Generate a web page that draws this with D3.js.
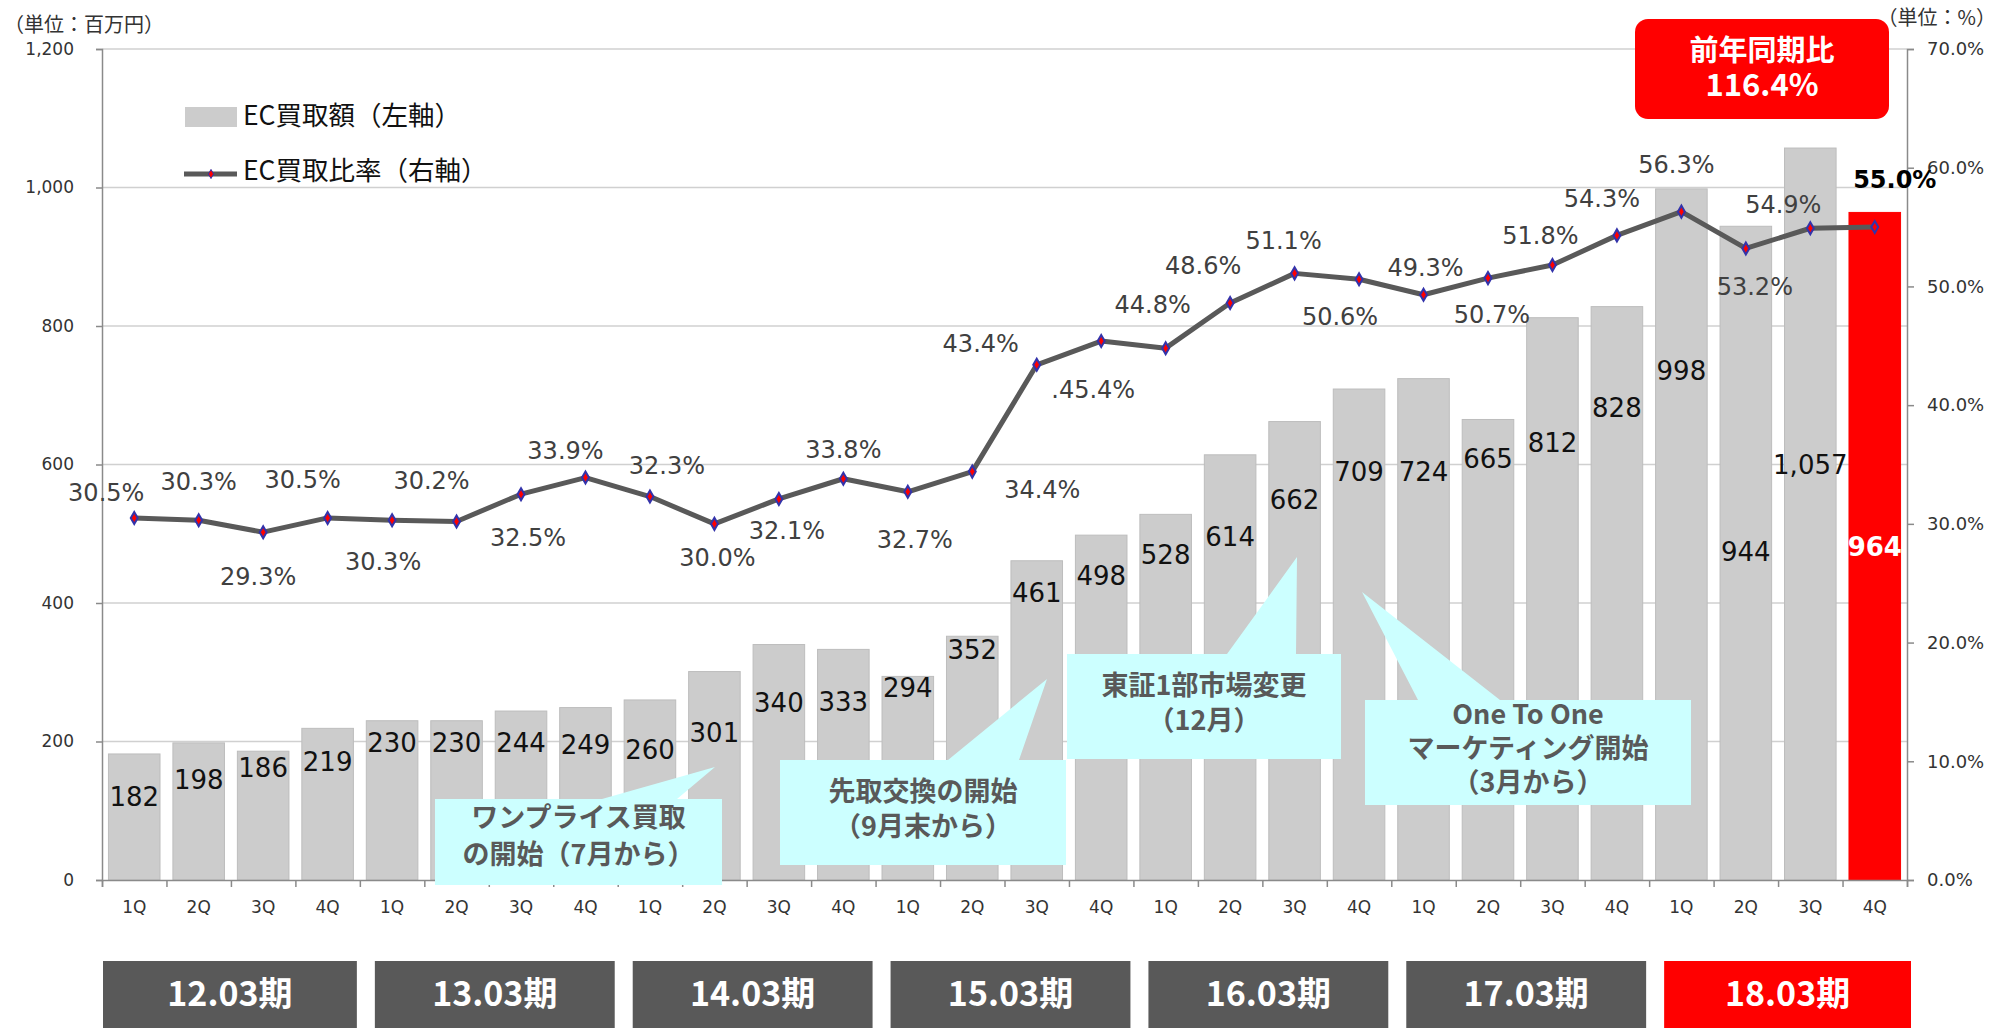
<!DOCTYPE html>
<html>
<head>
<meta charset="utf-8">
<script src="https://cdn.jsdelivr.net/npm/d3@7"></script>
<style>
  body { margin: 0; background: #fff; }
  svg { display: block; }
</style>
</head>
<body>
<div id="chart"></div>
<script>
// EC買取額 (bars, left axis) and EC買取比率 (line, right axis) by quarter

const periods = ["12.03期", "13.03期", "14.03期", "15.03期", "16.03期", "17.03期", "18.03期"];
const quarterNames = ["1Q", "2Q", "3Q", "4Q"];
const buyAmount = [182, 198, 186, 219, 230, 230, 244, 249, 260, 301, 340, 333, 294, 352,
                   461, 498, 528, 614, 662, 709, 724, 665, 812, 828, 998, 944, 1057, 964];
const ecRatio = [30.5, 30.3, 29.3, 30.5, 30.3, 30.2, 32.5, 33.9, 32.3, 30.0, 32.1, 33.8, 32.7, 34.4,
                 43.4, 45.4, 44.8, 48.6, 51.1, 50.6, 49.3, 50.7, 51.8, 54.3, 56.3, 53.2, 54.9, 55.0];
const ratioLabels = ["30.5%", "30.3%", "29.3%", "30.5%", "30.3%", "30.2%", "32.5%", "33.9%", "32.3%", "30.0%",
                     "32.1%", "33.8%", "32.7%", "34.4%", "43.4%", ".45.4%", "44.8%", "48.6%", "51.1%", "50.6%",
                     "49.3%", "50.7%", "51.8%", "54.3%", "56.3%", "53.2%", "54.9%", "55.0%"];
const leftTicks = [0, 200, 400, 600, 800, 1000, 1200];
const rightTicks = [0, 10, 20, 30, 40, 50, 60, 70];
const yoyText = ["前年同期比", "116.4%"];

// label placement (pixel offsets, tuned by eye)
const barLabelDy = [43, 37, 17, 34, 22, 22, 32, 37, 50, 61, 58, 53, 12, 14,
                    32, 41, 41, 82, 78, 83, 93, 40, 125, 101, 182, 326, 317, 335];
const ratioLabelOffset = [[-28, -25], [0, -38], [-5, 45], [-25, -38], [-9, 42], [-25, -40], [7, 44], [-20, -27],
                          [17, -31], [3, 34], [8, 32], [0, -29], [7, 48], [70, 18], [-56, -21], [-8, 49],
                          [-13, -43], [-27, -37], [-11, -32], [-19, 38], [2, -27], [4, 37], [-12, -29], [-15, -36],
                          [-5, -47], [9, 39], [-27, -23], [20, -47]];

const categories = periods.flatMap(p => quarterNames.map(q => p + " " + q));

const W = 1997, H = 1028;
const plot = { left: 102, right: 1907, top: 49, bottom: 880 };
const jp = "'Noto Sans CJK JP', sans-serif";
const num = "'DejaVu Sans', sans-serif";

const svg = d3.select("#chart").append("svg")
    .attr("width", W)
    .attr("height", H);

const x = d3.scaleBand()
    .domain(d3.range(categories.length))
    .range([plot.left, plot.right])
    .paddingInner(0.2)
    .paddingOuter(0.1);
const xEdge = d3.scaleLinear().domain([0, categories.length]).range([plot.left, plot.right]);
const yL = d3.scaleLinear().domain([0, 1200]).range([plot.bottom, plot.top]);
const yR = d3.scaleLinear().domain([0, 70]).range([plot.bottom, plot.top]);
const cx = i => x(i) + x.bandwidth() / 2;
const last = buyAmount.length - 1;

// gridlines
svg.append("g")
    .selectAll("line")
    .data(leftTicks.filter(d => d > 0))
    .join("line")
    .attr("x1", plot.left).attr("x2", plot.right)
    .attr("y1", d => yL(d)).attr("y2", d => yL(d))
    .attr("stroke", "#d0d0d0")
    .attr("stroke-width", 1.5);

// bars
svg.append("g")
    .selectAll("rect")
    .data(buyAmount)
    .join("rect")
    .attr("x", (d, i) => x(i))
    .attr("y", d => yL(d))
    .attr("width", x.bandwidth())
    .attr("height", d => yL(0) - yL(d))
    .attr("fill", (d, i) => i === last ? "#ff0000" : "#cccccc")
    .attr("stroke", (d, i) => i === last ? "#ff0000" : "#bdbdbd")
    .attr("stroke-width", 1);

// axes
const axisLeft = svg.append("g")
    .attr("transform", `translate(${plot.left},0)`)
    .call(d3.axisLeft(yL).tickValues(leftTicks).tickSize(6).tickPadding(22).tickFormat(d3.format(",")));
const axisRight = svg.append("g")
    .attr("transform", `translate(${plot.right},0)`)
    .call(d3.axisRight(yR).tickValues(rightTicks).tickSize(7).tickPadding(13).tickFormat(d => d.toFixed(1) + "%"));
const axisEdges = svg.append("g")
    .attr("transform", `translate(0,${plot.bottom})`)
    .call(d3.axisBottom(xEdge).tickValues(d3.range(categories.length + 1)).tickSize(7).tickFormat(""));
const axisBottom = svg.append("g")
    .attr("transform", `translate(0,${plot.bottom})`)
    .call(d3.axisBottom(x).tickSize(0).tickPadding(21).tickFormat(i => quarterNames[i % 4]));
axisBottom.select(".domain").remove();

[axisLeft, axisRight, axisEdges].forEach(g => {
    g.select(".domain").attr("stroke", "#8a8a8a").attr("stroke-width", 1.5);
    g.selectAll(".tick line").attr("stroke", "#8a8a8a").attr("stroke-width", 1.5);
});
axisLeft.selectAll(".tick text").style("font-size", "17px");
axisRight.selectAll(".tick text").style("font-size", "18px");
axisBottom.selectAll(".tick text").style("font-size", "17px");
[axisLeft, axisRight, axisBottom].forEach(g => {
    g.selectAll(".tick text")
        .attr("fill", "#333")
        .style("font-family", num);
});

// bar value labels
svg.append("g")
    .selectAll("text")
    .data(buyAmount)
    .join("text")
    .attr("x", (d, i) => cx(i))
    .attr("y", (d, i) => yL(d) + barLabelDy[i])
    .attr("text-anchor", "middle")
    .attr("dominant-baseline", "central")
    .style("font-family", num)
    .style("font-size", "26px")
    .style("font-weight", (d, i) => i === last ? "bold" : "normal")
    .attr("fill", (d, i) => i === last ? "#fff" : "#111")
    .text(d => d3.format(",")(d));

// ratio line
const line = d3.line()
    .x((d, i) => cx(i))
    .y(d => yR(d));

svg.append("path")
    .datum(ecRatio)
    .attr("d", line)
    .attr("fill", "none")
    .attr("stroke", "#595959")
    .attr("stroke-width", 5)
    .attr("stroke-linejoin", "round");

const diamond = d3.symbol().type(d3.symbolDiamond).size(42);
svg.append("g")
    .selectAll("path")
    .data(ecRatio)
    .join("path")
    .attr("transform", (d, i) => `translate(${cx(i)},${yR(d)})`)
    .attr("d", diamond)
    .attr("fill", "#ff0000")
    .attr("stroke", "#3333aa")
    .attr("stroke-width", 2);

// ratio labels
svg.append("g")
    .selectAll("text")
    .data(ecRatio)
    .join("text")
    .attr("x", (d, i) => cx(i) + ratioLabelOffset[i][0])
    .attr("y", (d, i) => yR(d) + ratioLabelOffset[i][1])
    .attr("text-anchor", "middle")
    .attr("dominant-baseline", "central")
    .style("font-family", num)
    .style("font-size", "24px")
    .style("font-weight", (d, i) => i === last ? "bold" : "normal")
    .attr("fill", (d, i) => i === last ? "#000" : "#404040")
    .text((d, i) => ratioLabels[i]);

// callouts
const callouts = [
    { box: [435, 799, 722, 885], tail: [602, 677, 715, 767], lines: ["ワンプライス買取", "の開始（7月から）"], ys: [815, 852] },
    { box: [780, 760, 1066, 865], tail: [948, 1019, 1047, 679], lines: ["先取交換の開始", "（9月末から）"], ys: [789, 824] },
    { box: [1067, 654, 1341, 759], tail: [1227, 1296, 1297, 557], lines: ["東証1部市場変更", "（12月）"], ys: [683, 718] },
    { box: [1365, 700, 1691, 805], tail: [1418, 1500, 1362, 592], lines: ["One To One", "マーケティング開始", "（3月から）"], ys: [712, 746, 780] }
];
const co = svg.append("g");
callouts.forEach(c => {
    const [x0, y0, x1, y1] = c.box;
    const [b0, b1, tx, ty] = c.tail;
    co.append("path")
        .attr("d", `M${x0},${y0}L${b0},${y0}L${tx},${ty}L${b1},${y0}L${x1},${y0}L${x1},${y1}L${x0},${y1}Z`)
        .attr("fill", "#ccffff");
    c.lines.forEach((t, k) => {
        co.append("text")
            .attr("x", (x0 + x1) / 2)
            .attr("y", c.ys[k])
            .attr("text-anchor", "middle")
            .attr("dominant-baseline", "central")
            .style("font-family", jp)
            .style("font-size", "27px")
            .style("font-weight", "bold")
            .attr("fill", "#595959")
            .text(t);
    });
});

// period boxes
const pb = svg.append("g");
periods.forEach((p, k) => {
    const x0 = xEdge(k * 4) + (k === 0 ? 1 : 15);
    const x1 = xEdge(k * 4 + 4) - (k === periods.length - 1 ? -4 : 3);
    pb.append("rect")
        .attr("x", x0).attr("y", 961)
        .attr("width", x1 - x0).attr("height", H - 961)
        .attr("fill", k === periods.length - 1 ? "#ff0000" : "#595959");
    pb.append("text")
        .attr("x", (x0 + x1) / 2).attr("y", 991)
        .attr("text-anchor", "middle")
        .attr("dominant-baseline", "central")
        .style("font-family", jp)
        .style("font-size", "34px")
        .style("font-weight", "bold")
        .attr("fill", "#fff")
        .text(p);
});

// legend
const lg = svg.append("g").style("font-family", jp).style("font-size", "26.5px").attr("fill", "#111");
lg.append("rect").attr("x", 185).attr("y", 107).attr("width", 52).attr("height", 20).attr("fill", "#cccccc");
lg.append("text").attr("x", 243).attr("y", 113).attr("dominant-baseline", "central").text("EC買取額（左軸）");
lg.append("line").attr("x1", 184).attr("x2", 237).attr("y1", 174).attr("y2", 174)
    .attr("stroke", "#595959").attr("stroke-width", 5);
lg.append("path").attr("transform", "translate(211,174)").attr("d", d3.symbol().type(d3.symbolDiamond).size(24))
    .attr("fill", "#ff0000").attr("stroke", "#3333aa").attr("stroke-width", 1);
lg.append("text").attr("x", 243).attr("y", 168).attr("dominant-baseline", "central").text("EC買取比率（右軸）");

// unit labels
svg.append("text").attr("x", 4).attr("y", 23).attr("dominant-baseline", "central")
    .style("font-family", jp).style("font-size", "20px").attr("fill", "#333").text("（単位：百万円）");
svg.append("text").attr("x", 1996).attr("y", 16).attr("text-anchor", "end").attr("dominant-baseline", "central")
    .style("font-family", jp).style("font-size", "20px").attr("fill", "#333").text("（単位：%）");

// YoY badge
svg.append("rect")
    .attr("x", 1635).attr("y", 19).attr("width", 254).attr("height", 100)
    .attr("rx", 13)
    .attr("fill", "#ff0000");
yoyText.forEach((t, k) => {
    svg.append("text")
        .attr("x", 1762).attr("y", k === 0 ? 48 : 82)
        .attr("text-anchor", "middle")
        .attr("dominant-baseline", "central")
        .style("font-family", jp)
        .style("font-size", k === 0 ? "29px" : "31px")
        .style("font-weight", "bold")
        .attr("fill", "#fff")
        .text(t);
});
</script>
</body>
</html>
